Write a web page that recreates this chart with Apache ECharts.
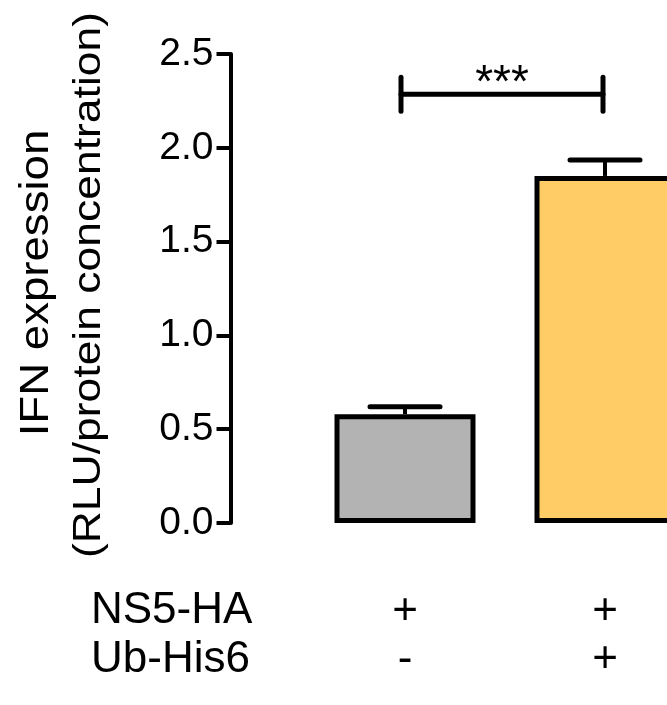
<!DOCTYPE html>
<html>
<head>
<meta charset="utf-8">
<script src="https://cdn.jsdelivr.net/npm/echarts@6/dist/echarts.min.js"></script>
<style>
  html, body { margin: 0; padding: 0; background: #fff; }
  #chart { width: 667px; height: 705px; }
</style>
</head>
<body>
<div id="chart"></div>
<script>
// groups and their treatment rows
const groups = ['NS5-HA', 'NS5-HA + Ub-His6'];
const ns5Row = ['+', '+'];
const ubRow = ['-', '+'];
const rowNames = ['NS5-HA', 'Ub-His6'];

// mean and SEM
const means = [0.58, 1.85];
const errors = [0.04, 0.085];
const barColors = ['#B3B3B3', '#FFCC66'];

// y ticks
const yTickLabels = ['0.0', '0.5', '1.0', '1.5', '2.0', '2.5'];

// significance bracket: from group, to group, height, label
const sigFrom = [0];
const sigTo = [1];
const sigHeight = [2.285];
const sigText = ['***'];

const FONT = '"Liberation Sans", Arial, sans-serif';

const chart = echarts.init(document.getElementById('chart'));

const errData = means.map((m, i) => [i, m, errors[i]]);
const sigData = sigFrom.map((f, i) => [f, sigTo[i], sigHeight[i], sigText[i]]);

chart.setOption({
  animation: false,
  grid: { left: 305, width: 400, top: 54, bottom: 182, containLabel: false, outerBoundsMode: 'none' },
  xAxis: {
    type: 'category',
    data: groups,
    axisLine: { show: false },
    axisTick: { show: false },
    axisLabel: {
      margin: 65,
      fontFamily: FONT,
      fontSize: 44,
      lineHeight: 48,
      color: '#000',
      formatter: (val, idx) => ns5Row[idx] + '\n' + ubRow[idx]
    }
  },
  yAxis: {
    type: 'value',
    min: 0,
    max: 2.5,
    interval: 0.5,
    offset: 74.5,
    splitLine: { show: false },
    axisLine: { show: true, lineStyle: { color: '#000', width: 4 } },
    axisTick: { show: true, length: 14, lineStyle: { color: '#000', width: 4 } },
    axisLabel: {
      margin: 17,
      fontFamily: FONT,
      fontSize: 39,
      color: '#000',
      formatter: (v) => yTickLabels[Math.round(v / 0.5)]
    }
  },
  graphic: [
    {
      type: 'text', x: 37, y: 283, rotation: Math.PI / 2, scaleX: 1.14,
      style: { text: 'IFN expression', font: '40px ' + FONT, fill: '#000', align: 'center', verticalAlign: 'middle' }
    },
    {
      type: 'text', x: 89, y: 285, rotation: Math.PI / 2, scaleX: 1.14,
      style: { text: '(RLU/protein concentration)', font: '39px ' + FONT, fill: '#000', align: 'center', verticalAlign: 'middle' }
    },
    {
      type: 'text', x: 91, y: 611,
      style: { text: rowNames[0], font: '44px ' + FONT, fill: '#000', align: 'left', verticalAlign: 'middle' }
    },
    {
      type: 'text', x: 91, y: 660,
      style: { text: rowNames[1], font: '44px ' + FONT, fill: '#000', align: 'left', verticalAlign: 'middle' }
    }
  ],
  series: [
    {
      type: 'bar',
      barWidth: 141,
      data: means.map((m, i) => ({
        value: m,
        itemStyle: { color: barColors[i], borderColor: '#000', borderWidth: 5 }
      })),
      z: 2
    },
    {
      type: 'custom',
      data: errData,
      clip: false,
      z: 3,
      renderItem: (params, api) => {
        const i = api.value(0);
        const base = api.coord([i, api.value(1)]);
        const top = api.coord([i, api.value(1) + api.value(2)]);
        const st = { stroke: '#000', lineWidth: 5, lineCap: 'round' };
        return {
          type: 'group',
          children: [
            { type: 'line', shape: { x1: top[0], y1: base[1], x2: top[0], y2: top[1] }, style: { stroke: '#000', lineWidth: 4 } },
            { type: 'line', shape: { x1: top[0] - 35, y1: top[1], x2: top[0] + 35, y2: top[1] }, style: st }
          ]
        };
      }
    },
    {
      type: 'custom',
      data: sigData,
      clip: false,
      z: 3,
      renderItem: (params, api) => {
        const h = api.value(2);
        const a = api.coord([api.value(0), h]);
        const b = api.coord([api.value(1), h]);
        const x1 = a[0] - 4, x2 = b[0] - 2, y = a[1];
        const st = { stroke: '#000', lineWidth: 5, lineCap: 'round' };
        return {
          type: 'group',
          children: [
            { type: 'line', shape: { x1: x1, y1: y, x2: x2, y2: y }, style: st },
            { type: 'line', shape: { x1: x1, y1: y - 17, x2: x1, y2: y + 17 }, style: st },
            { type: 'line', shape: { x1: x2, y1: y - 17, x2: x2, y2: y + 17 }, style: st },
            {
              type: 'text', x: (x1 + x2) / 2, y: y - 10,
              style: { text: sigData[params.dataIndex][3], font: '46px ' + FONT, fill: '#000', align: 'center', verticalAlign: 'middle' }
            }
          ]
        };
      }
    }
  ]
});
</script>
</body>
</html>
